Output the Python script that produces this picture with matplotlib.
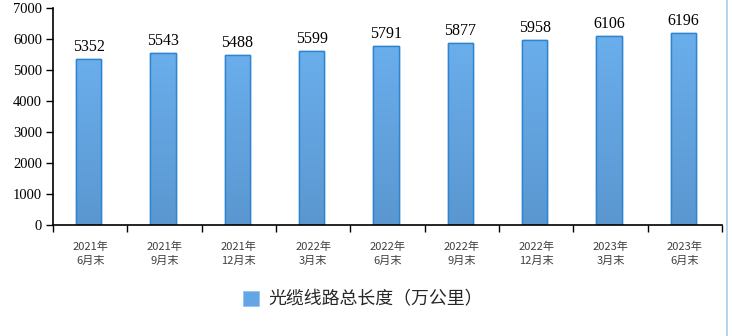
import matplotlib
matplotlib.use("Agg")
import matplotlib.pyplot as plt
import numpy as np
from matplotlib.colors import LinearSegmentedColormap
from matplotlib.patches import Rectangle
from matplotlib.lines import Line2D

categories = ["2021年\n6月末", "2021年\n9月末", "2021年\n12月末", "2022年\n3月末", "2022年\n6月末",
              "2022年\n9月末", "2022年\n12月末", "2023年\n3月末", "2023年\n6月末"]
values = [5352, 5543, 5488, 5599, 5791, 5877, 5958, 6106, 6196]
yticks = [0, 1000, 2000, 3000, 4000, 5000, 6000, 7000]
legend_label = "光缆线路总长度（万公里）"

cjk = ["Noto Sans CJK SC", "DejaVu Sans"]
serif = ["Liberation Serif", "DejaVu Serif"]

fig = plt.figure(figsize=(7.32, 3.36), dpi=100)
ax = fig.add_axes([0.0724, 0.3304, 0.9139, 0.6456])

x = np.arange(len(values))
bars = ax.bar(x - 0.02, values, width=0.34, color="#62a6e5", edgecolor="#2d84cf", linewidth=1.0, zorder=2)

cmap = LinearSegmentedColormap.from_list("g", ["#5a97d0", "#6aaeec"])
grad = np.linspace(0, 1, 256).reshape(-1, 1)
for b in bars:
    x0, w, h = b.get_x(), b.get_width(), b.get_height()
    im = ax.imshow(grad, cmap=cmap, origin="lower", aspect="auto",
                   extent=(x0, x0 + w, 0, h), zorder=2.1)
    im.set_clip_path(b)
    ax.add_patch(Rectangle((x0, 0), w, h, fill=False, edgecolor="#2d84cf", linewidth=1.0, zorder=2.2))

for b, v in zip(bars, values):
    ax.text(b.get_x() + b.get_width() / 2, v + 130, str(v), ha="center", va="bottom",
            fontsize=11.5, family=serif, color="#000000")

ax.set_xlim(-0.5, len(values) - 0.5)
ax.set_ylim(0, 7000)
ax.set_yticks(yticks)
ax.set_yticklabels([str(t) for t in yticks], family=serif, fontsize=10.5)
ax.set_xticks(np.arange(len(values) + 1) - 0.5)
ax.set_xticklabels([])
ax.tick_params(axis="x", direction="out", length=5, width=1, color="#000000")
ax.tick_params(axis="y", direction="out", length=5, width=1, color="#000000", pad=3)
for xi, lab in zip(x, categories):
    ax.text(xi, -0.075, lab, transform=ax.get_xaxis_transform(), ha="center", va="top",
            fontsize=8, family=cjk, color="#404040", linespacing=1.5)

ax.spines["top"].set_visible(False)
ax.spines["right"].set_visible(False)
ax.spines["left"].set_linewidth(1.2)
ax.spines["bottom"].set_linewidth(1.2)

# legend
fig.patches.append(Rectangle((243 / 732, 1 - 306 / 336), 16 / 732, 15 / 336,
                             transform=fig.transFigure, facecolor="#62a6e5", edgecolor="#8fc0ee", linewidth=0.5))
fig.text(268 / 732, 1 - 299 / 336, legend_label, ha="left", va="center", fontsize=12.9, family=cjk, color="#262626")

# right border line
fig.lines.append(Line2D([727 / 732, 727 / 732], [0, 1], transform=fig.transFigure, color="#a9cdee", linewidth=1.2))

fig.savefig("out.png", dpi=100)
